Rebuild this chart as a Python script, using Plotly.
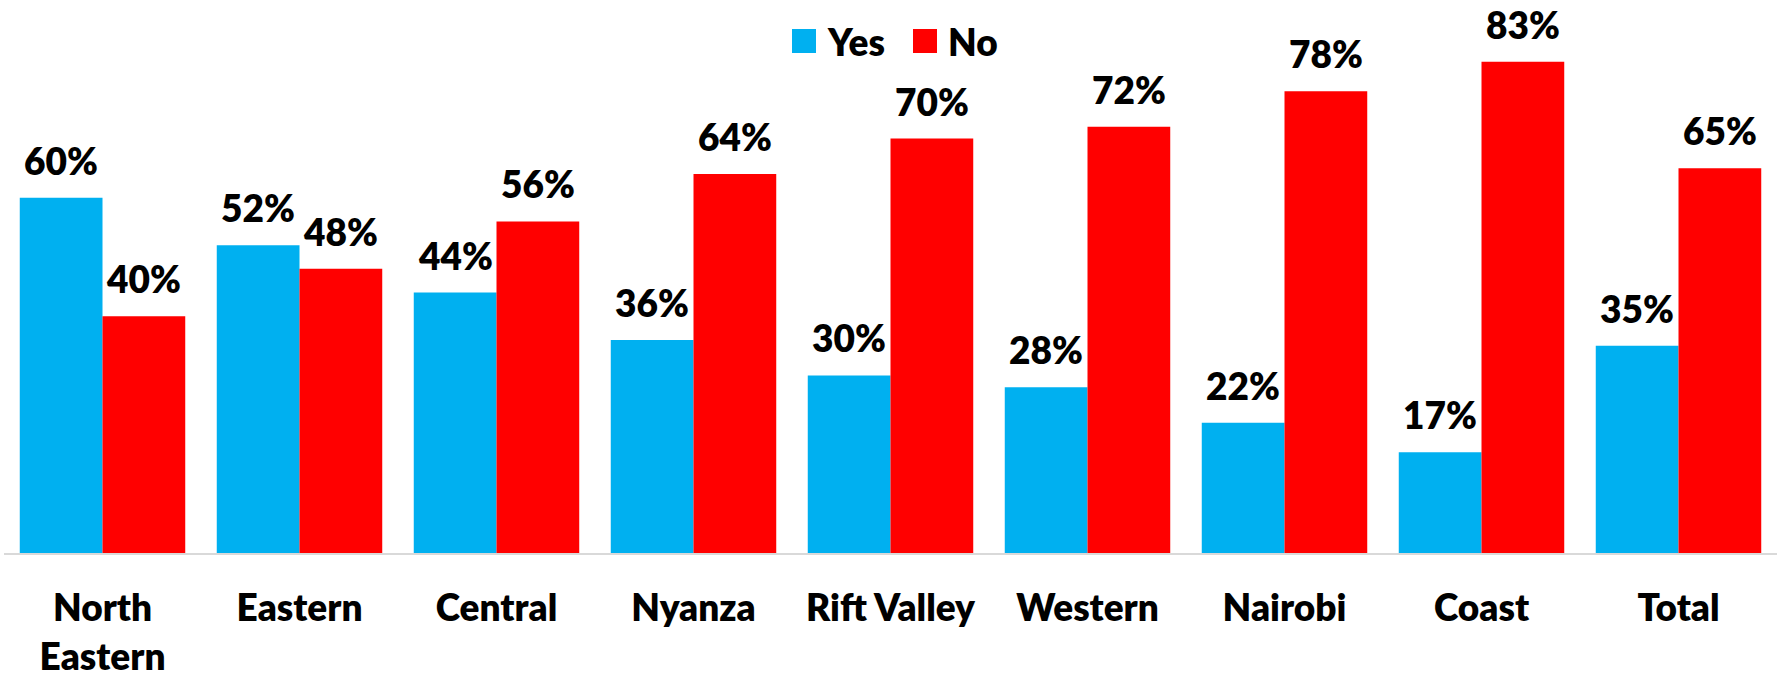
import plotly.graph_objects as go

regions = ["North<br>Eastern", "Eastern", "Central", "Nyanza", "Rift Valley",
           "Western", "Nairobi", "Coast", "Total"]
yes_pct = [60, 52, 44, 36, 30, 28, 22, 17, 35]
no_pct = [40, 48, 56, 64, 70, 72, 78, 83, 65]

BLUE = "#00B0F0"
RED = "#FF0000"
FONT = "Lato"
FSIZE = 37
WEIGHT = 800

W, H = 1777, 678
ML, MB = 4, 125
PLOT_W, PLOT_H = W - ML, H - MB

fig = go.Figure()
fig.add_trace(go.Bar(x=regions, y=yes_pct, name="Yes", marker_color=BLUE, marker_line_width=0))
fig.add_trace(go.Bar(x=regions, y=no_pct, name="No", marker_color=RED, marker_line_width=0))

# data labels above each bar (offset half a bar width left/right of the category centre)
half_bar = 41.25
for vals, dx in ((yes_pct, -half_bar), (no_pct, half_bar)):
    for cat, v in zip(regions, vals):
        fig.add_annotation(x=cat, y=v, text=f"{v}%", showarrow=False,
                           xshift=dx, yanchor="bottom", yshift=13,
                           font=dict(family=FONT, size=FSIZE, color="black", weight=WEIGHT))

# hand-made legend so the squares can match the original size
def px_to_paper(px, py):
    return (px - ML) / PLOT_W, (PLOT_H - py) / PLOT_H

for x0, color, label in ((792, BLUE, "Yes"), (913, RED, "No")):
    ax0, ay0 = px_to_paper(x0, 29)
    ax1, ay1 = px_to_paper(x0 + 24, 53)
    fig.add_shape(type="rect", xref="paper", yref="paper", x0=ax0, x1=ax1, y0=ay1, y1=ay0,
                  fillcolor=color, line_width=0)
    tx, ty = px_to_paper(x0 + 33, 41)
    fig.add_annotation(xref="paper", yref="paper", x=tx, y=ty, text=label, showarrow=False,
                       xanchor="left", yanchor="middle",
                       font=dict(family=FONT, size=FSIZE, color="black", weight=WEIGHT))

fig.update_layout(
    width=W, height=H,
    margin=dict(l=ML, r=0, t=0, b=MB),
    barmode="group", bargap=0.16, bargroupgap=0,
    plot_bgcolor="white", paper_bgcolor="white",
    showlegend=False,
    font=dict(family=FONT, size=FSIZE, color="black"),
)
fig.update_xaxes(showline=True, linecolor="#D9D9D9", linewidth=2, ticks="",
                 tickfont=dict(family=FONT, size=FSIZE, color="black", weight=WEIGHT),
                 ticklabelstandoff=22, showgrid=False, automargin=False)
fig.update_yaxes(range=[0, PLOT_H / 5.92], visible=False, showgrid=False)

# drop the browser's default body margin so the figure sits at the window origin
fig.write_html("out.html", config={"displayModeBar": False},
               post_script="document.body.style.margin='0';")
